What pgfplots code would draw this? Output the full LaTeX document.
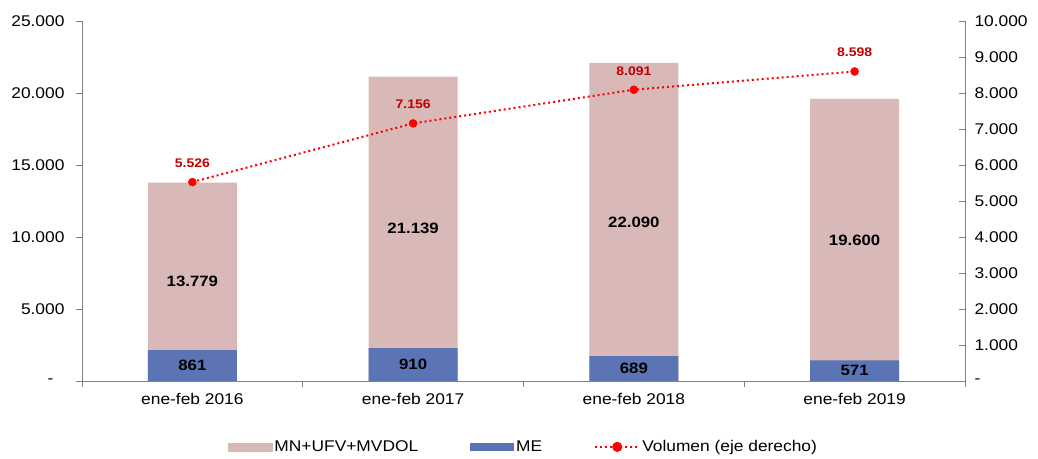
\documentclass[border=0pt]{standalone}
\usepackage{pgfplots}
\pgfplotsset{compat=1.18}
\usepackage{fontspec}
\setmainfont{Liberation Sans}[FakeStretch=1.12]
\definecolor{pinkbar}{HTML}{D9B8B8}
\definecolor{bluebar}{HTML}{5B74B6}
\definecolor{redline}{HTML}{FF0000}
\definecolor{redlabel}{HTML}{C00000}
\definecolor{axisgray}{HTML}{808080}
\begin{document}
\begin{tikzpicture}[font=\fontsize{15.5}{17}\selectfont]
\pgfplotsset{
  common/.style={scale only axis, width=883pt, height=360pt,
    xmin=-0.5, xmax=3.5,
    axis line style={axisgray, line width=0.8pt},
    tick style={axisgray, line width=0.8pt},
    major tick length=6pt,
    scaled y ticks=false,
    /pgf/number format/assume math mode=true,
    clip=false}
}
\begin{axis}[common,
  ymin=0, ymax=25000,
  axis y line*=left, axis x line*=bottom,
  tick align=outside,
  ytick={0,5000,10000,15000,20000,25000},
  yticklabels={-\hspace*{11pt},5.000,10.000,15.000,20.000,25.000},
  yticklabel style={xshift=-8pt},
  xtick={-0.5,0.5,1.5,2.5,3.5}, xticklabels={},
  extra x ticks={0,1,2,3},
  extra x tick labels={ene-feb 2016,ene-feb 2017,ene-feb 2018,ene-feb 2019},
  extra x tick style={major tick length=0pt, tick style={draw=none}},
  xticklabel style={yshift=-9pt},
]
\coordinate (bl) at (rel axis cs:0,0);
\coordinate (tr) at (rel axis cs:1,1);
\addplot[ybar, bar width=89pt, fill=pinkbar, draw=none, bar shift=0pt]
  coordinates {(0,13779) (1,21139) (2,22090) (3,19600)};
\addplot[draw=none, mark=none, nodes near coords, point meta=explicit symbolic,
  every node near coord/.style={anchor=center, font=\fontsize{15}{17}\selectfont\bfseries}]
  coordinates {(0,6889.5)[13.779] (1,10569.5)[21.139] (2,11045)[22.090] (3,9800)[19.600]};
\end{axis}
\begin{axis}[common,
  ymin=0, ymax=10000,
  axis y line*=right, axis x line=none,
  tick align=inside,
  ytick={0,1000,...,10000},
  yticklabels={-,1.000,2.000,3.000,4.000,5.000,6.000,7.000,8.000,9.000,10.000},
  yticklabel style={xshift=6pt, anchor=west},
  legend style={at={(0.5,-0.183)}, anchor=center, draw=none, legend columns=3,
    /tikz/every even column/.append style={column sep=50pt},
    font=\fontsize{15.5}{17}\selectfont},
]
\addlegendimage{legend image code/.code={\fill[pinkbar] (0pt,-4pt) rectangle (44pt,4pt);}}
\addlegendentry{MN+UFV+MVDOL}
\addplot[ybar, bar width=89pt, fill=bluebar, draw=none, bar shift=0pt,
  legend image code/.code={\fill[bluebar] (0pt,-4pt) rectangle (44pt,4pt);}]
  coordinates {(0,861) (1,910) (2,689) (3,571)};
\addlegendentry{ME}
\addplot[forget plot, draw=none, mark=none, nodes near coords, point meta=explicit symbolic,
  every node near coord/.style={anchor=center, font=\fontsize{15}{17}\selectfont\bfseries}]
  coordinates {(0,430.5)[861] (1,455)[910] (2,344.5)[689] (3,285.5)[571]};
\addplot[redline, line width=2pt, dash pattern=on 2pt off 3pt, mark=*, mark size=4pt,
  mark options={solid, fill=redline, draw=redline, line width=0.5pt},
  nodes near coords, point meta=explicit symbolic,
  every node near coord/.style={anchor=south, yshift=11pt, text=redlabel, font=\fontsize{12.5}{14}\selectfont\bfseries},
  legend image code/.code={
    \draw[redline, line width=2pt, dash pattern=on 2pt off 3pt] (0pt,0pt) -- (44pt,0pt);
    \fill[redline, solid] (22pt,0pt) circle (4pt);}]
  coordinates {(0,5526)[5.526] (1,7156)[7.156] (2,8091)[8.091] (3,8598)[8.598]};
\addlegendentry{Volumen (eje derecho)}
\end{axis}
\pgfresetboundingbox
\path[use as bounding box] ([shift={(-82pt,-77pt)}]bl) rectangle ([shift={(73pt,21pt)}]tr);
\end{tikzpicture}
\end{document}
